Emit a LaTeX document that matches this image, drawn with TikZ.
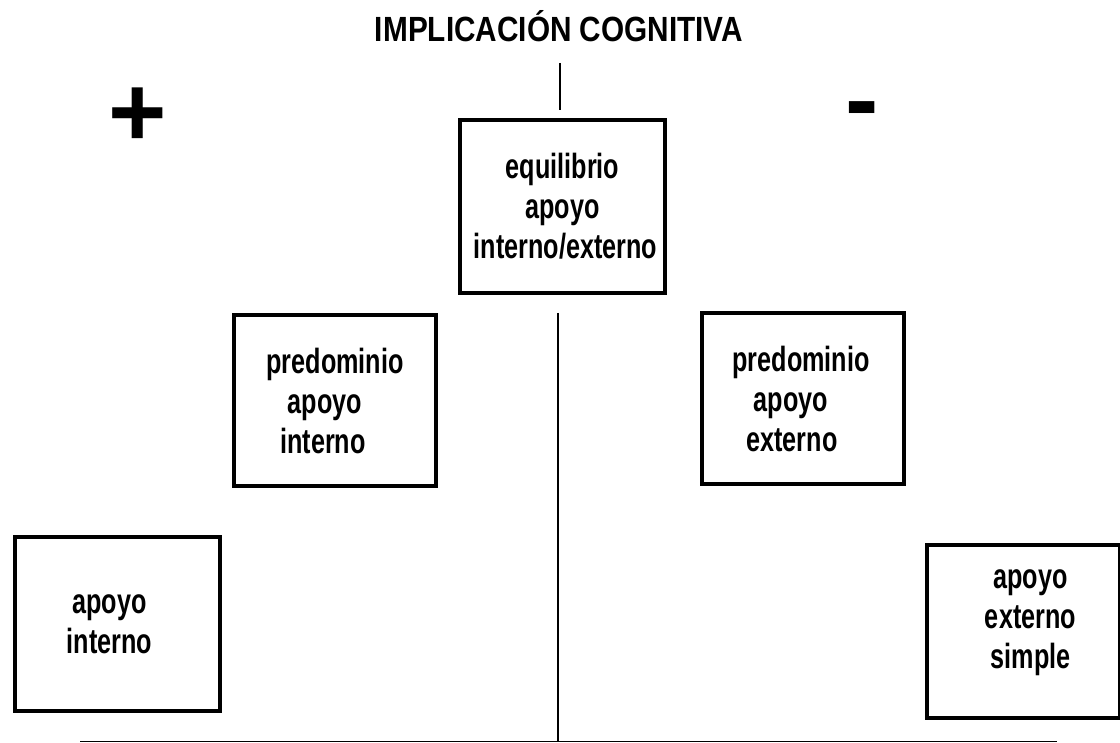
\documentclass[tikz,border=0pt]{standalone}
\usepackage{fontspec}
\setmainfont{Liberation Sans}
\newfontfamily\boxfont{Liberation Sans}[FakeStretch=0.72]
\newfontfamily\titlefont{Liberation Sans}[FakeStretch=0.85]
\newfontfamily\signfont{Liberation Sans}
\begin{document}
\begin{tikzpicture}[x=1pt,y=-1pt,
  boxnode/.style={draw,line width=3.5pt,align=center,inner sep=0pt,
    font=\boxfont\bfseries\fontsize{35}{40}\selectfont},
  thinline/.style={line width=1.5pt},
  signnode/.style={inner sep=0pt,font=\signfont\bfseries\fontsize{100}{100}\selectfont}]
\useasboundingbox (0,0) rectangle (1120,743);
% title
\node[anchor=base,inner sep=0pt,font=\titlefont\bfseries\fontsize{35}{40}\selectfont] (title) at (559,42) {IMPLICACIÓN COGNITIVA};
% signs
\node[signnode] (plus) at (138,117) {+};
\node[signnode] (minus) at (862,118) {-};
% boxes
\node[boxnode,minimum width=205pt,minimum height=173pt] (top) at (562.5,206.5)
  {equilibrio\\apoyo\\\hspace*{6pt}interno/externo};
\node[boxnode,minimum width=202pt,minimum height=171pt] (lmid) at (335,400.5)
  {predominio\\apoyo\hspace*{20pt}\mbox{}\\interno\hspace*{24pt}\mbox{}};
\node[boxnode,minimum width=202pt,minimum height=171pt] (rmid) at (803,398.5)
  {predominio\hspace*{4pt}\mbox{}\\apoyo\hspace*{24pt}\mbox{}\\externo\hspace*{22pt}\mbox{}};
\node[boxnode,minimum width=205pt,minimum height=174pt] (lbot) at (117.5,624)
  {apoyo\hspace*{16pt}\mbox{}\\interno\hspace*{16pt}\mbox{}};
\node[boxnode,minimum width=193pt,minimum height=173pt] (rbot) at (1023.5,631.5)
  {\hspace*{14pt}apoyo\\\hspace*{14pt}externo\\\hspace*{14pt}simple\\[-16pt]\mbox{}};
% connectors
\coordinate (t1) at (560,63);
\coordinate (t2) at (560,110);
\coordinate (v1) at (558,313);
\coordinate (v2) at (558,741.5);
\coordinate (h1) at (80,741.5);
\coordinate (h2) at (1057,741.5);
\draw[thinline] (t1) -- (t2);
\draw[thinline] (v1) -- (v2);
\draw[thinline] (h1) -- (h2);
\end{tikzpicture}
\end{document}
